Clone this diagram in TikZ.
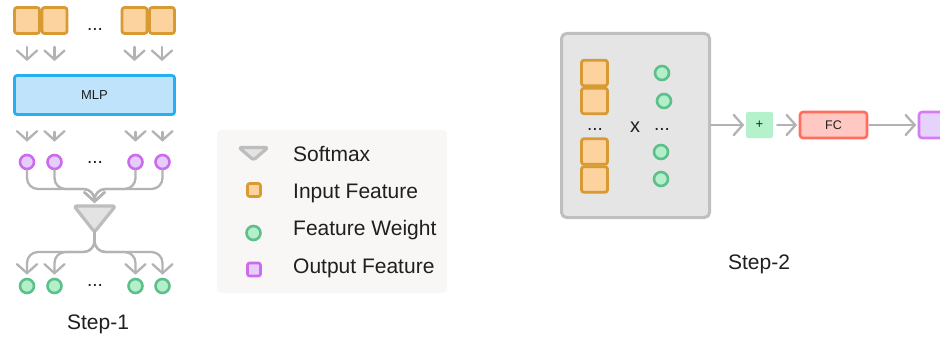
\documentclass[tikz,border=0pt]{standalone}
\usepackage{fontspec}
\setmainfont{Liberation Sans}
\usetikzlibrary{arrows.meta,calc}
\definecolor{orfill}{HTML}{FCD29E}
\definecolor{ordraw}{HTML}{D89A32}
\definecolor{blfill}{HTML}{BEE3FA}
\definecolor{bldraw}{HTML}{26B0F2}
\definecolor{agray}{HTML}{B3B3B3}
\definecolor{pufill}{HTML}{E5CEFB}
\definecolor{pudraw}{HTML}{CC6BEE}
\definecolor{grfill}{HTML}{B3EFCA}
\definecolor{grdraw}{HTML}{5DBF8A}
\definecolor{trfill}{HTML}{E3E3E3}
\definecolor{trdraw}{HTML}{BDBDBD}
\definecolor{lgbg}{HTML}{F8F7F5}
\definecolor{bxfill}{HTML}{E5E5E5}
\definecolor{bxdraw}{HTML}{BFBFBF}
\definecolor{plfill}{HTML}{B3F2CB}
\definecolor{fcfill}{HTML}{FFC8C2}
\definecolor{fcdraw}{HTML}{FF6F5E}
\definecolor{oufill}{HTML}{E6D3FC}
\definecolor{oudraw}{HTML}{D67BF7}
\definecolor{txt}{HTML}{1F1F1F}
\tikzset{
  insq/.style={draw=ordraw, fill=orfill, line width=2.8pt, rounded corners=2.5pt, minimum width=25pt, minimum height=26pt, inner sep=0pt},
  wcirc/.style={circle, draw=grdraw, fill=grfill, line width=2.6pt, minimum size=14pt, inner sep=0pt},
  pcirc/.style={circle, draw=pudraw, fill=pufill, line width=2.6pt, minimum size=14pt, inner sep=0pt},
  garrow/.style={draw=agray, line width=2.3pt, line cap=round, -{Straight Barb[length=9pt,width=20pt,line cap=round]}},
  dotsnode/.style={anchor=base, inner sep=0pt, font=\fontsize{19}{22}\selectfont, text=txt},
  lgtext/.style={anchor=base west, inner sep=0pt, font=\fontsize{21}{24}\selectfont, text=txt},
  trishape/.style={draw=trdraw, fill=trfill, line width=3.2pt, rounded corners=2.5pt, line join=round},
}
\begin{document}
\begin{tikzpicture}[x=1pt,y=-1pt]
\useasboundingbox (0,0) rectangle (940,337);
\clip (0,0) rectangle (940,337);

% ---------------- Step-1 ----------------
\node[insq] (s1) at (27,20.5) {};
\node[insq] (s2) at (54.5,20.5) {};
\node[insq] (s3) at (134.5,20.5) {};
\node[insq] (s4) at (162,20.5) {};
\node[dotsnode] (d1) at (95,31) {...};

\node[draw=bldraw, fill=blfill, line width=2.8pt, rounded corners=2.5pt, minimum width=160pt, minimum height=39pt, inner sep=0pt, font=\fontsize{13}{15}\selectfont, text=txt] (mlp) at (94.5,95) {MLP};

\foreach \s in {s1,s2,s3,s4}{
  \draw[garrow, shorten <=12pt, shorten >=13pt] (\s.south) -- (\s.south |- mlp.north);
}

\node[pcirc] (p1) at (27,162) {};
\node[pcirc] (p2) at (54.5,162) {};
\node[pcirc] (p3) at (135.5,162) {};
\node[pcirc] (p4) at (162.5,162) {};
\node[dotsnode] (d2) at (95,163.5) {...};

\foreach \p in {p1,p2,p3,p4}{
  \draw[garrow, shorten <=16pt, shorten >=12pt] (\p.north |- mlp.south) -- (\p.north);
}

% softmax triangle
\coordinate (tl) at (74,206);
\coordinate (tr) at (115.5,206);
\coordinate (tt) at (94.5,232);
\coordinate (merge) at (94.5,203);
\coordinate (mergeh) at (94.5,189);
\draw[trishape] (tl) -- (tr) -- (tt) -- cycle;

\foreach \p in {p1,p2,p3,p4}{
  \draw[garrow, rounded corners=11pt] (\p.south) |- (mergeh) -- (merge);
}

\node[wcirc] (g1) at (27,286) {};
\node[wcirc] (g2) at (54.5,286) {};
\node[wcirc] (g3) at (135.5,286) {};
\node[wcirc] (g4) at (162.5,286) {};
\node[dotsnode] (d3) at (95,286) {...};

\coordinate (splith) at (94.5,252);
\foreach \g in {g1,g2,g3,g4}{
  \draw[garrow, rounded corners=11pt, shorten >=3pt] (tt) -- (splith) -| (\g.north);
}

\node[lgtext, anchor=base] (step1) at (98,329) {Step-1};

% ---------------- Legend ----------------
\node[fill=lgbg, rounded corners=4pt, minimum width=230pt, minimum height=163pt, inner sep=0pt] (legend) at (332,211.5) {};
\draw[trishape] (239,147.5) -- (268,147.5) -- (253.5,160) -- cycle;
\node[insq, minimum width=13pt, minimum height=13pt, line width=2.6pt, rounded corners=2pt] (li) at (254,190) {};
\node[wcirc] (lw) at (253.5,233) {};
\node[draw=pudraw, fill=pufill, line width=2.6pt, rounded corners=2pt, minimum width=13pt, minimum height=13pt, inner sep=0pt] (lo) at (254,269.5) {};
\node[lgtext] (t1) at (293,161) {Softmax};
\node[lgtext] (t2) at (293,198) {Input Feature};
\node[lgtext] (t3) at (293,235) {Feature Weight};
\node[lgtext] (t4) at (293,273) {Output Feature};

% ---------------- Step-2 ----------------
\node[draw=bxdraw, fill=bxfill, line width=3pt, rounded corners=5pt, minimum width=148pt, minimum height=184pt, inner sep=0pt] (box) at (635.5,125.5) {};
\node[insq, minimum width=26pt, minimum height=25.5pt] (q1) at (594.5,73) {};
\node[insq, minimum width=26pt, minimum height=25.5pt] (q2) at (594.5,101) {};
\node[insq, minimum width=26pt, minimum height=25.5pt] (q3) at (594.5,151.5) {};
\node[insq, minimum width=26pt, minimum height=25.5pt] (q4) at (594.5,179.5) {};
\node[dotsnode] (d4) at (595,130) {...};
\node[anchor=base, inner sep=0pt, font=\fontsize{20}{24}\selectfont, text=txt] (x) at (635,132) {x};
\node[dotsnode] (d5) at (662,130) {...};
\node[wcirc] (w1) at (662,73) {};
\node[wcirc] (w2) at (664,101) {};
\node[wcirc] (w3) at (661,152) {};
\node[wcirc] (w4) at (661,179) {};

\node[fill=plfill, rounded corners=2pt, minimum width=27pt, minimum height=26pt, inner sep=0pt, font=\fontsize{13}{15}\selectfont, text=txt] (plus) at (759.5,125) {+};
\node[draw=fcdraw, fill=fcfill, line width=2.6pt, rounded corners=3pt, minimum width=67pt, minimum height=26pt, inner sep=0pt, font=\fontsize{12.5}{15}\selectfont, text=txt] (fc) at (833.5,125) {FC};
\node[draw=oudraw, fill=oufill, line width=2.6pt, rounded corners=3pt, minimum width=34pt, minimum height=26pt, inner sep=0pt] (out) at (936,125) {};

\draw[garrow, shorten >=1.5pt] (box.east |- plus.west) -- (plus.west);
\draw[garrow, shorten >=1.5pt, shorten <=4pt] (plus.east) -- (fc.west);
\draw[garrow, shorten >=1.5pt, shorten <=1pt] (fc.east) -- (out.west);

\node[lgtext, anchor=base] (step2) at (759,269) {Step-2};
\end{tikzpicture}
\end{document}
